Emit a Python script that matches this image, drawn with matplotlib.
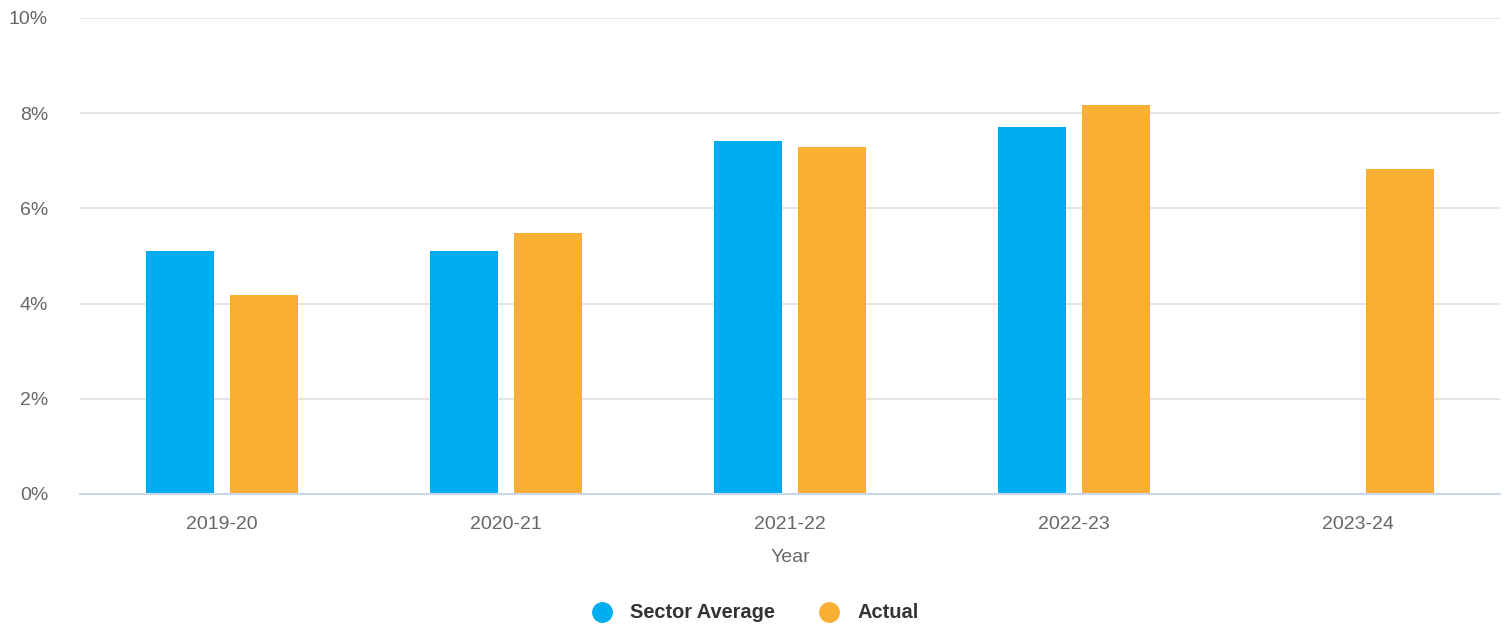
import matplotlib
matplotlib.use("Agg")
import matplotlib.pyplot as plt
import numpy as np
from matplotlib.lines import Line2D

plt.rcParams['font.family'] = ['Liberation Sans', 'DejaVu Sans']

years = ["2019-20", "2020-21", "2021-22", "2022-23", "2023-24"]
sector_avg = [5.1, 5.1, 7.42, 7.71, None]
actual = [4.18, 5.48, 7.29, 8.17, 6.83]
y_ticks = [0, 2, 4, 6, 8, 10]

c_blue = "#00aeef"
c_orange = "#f9ae34"

fig = plt.figure(figsize=(15.11, 6.27), dpi=100)
ax = fig.add_axes([80/1511, 1-494/627, 1420/1511, (494-18)/627])

x = np.arange(len(years))
w = 0.239
off = 0.148
sx = [xi for xi, v in zip(x, sector_avg) if v is not None]
sv = [v for v in sector_avg if v is not None]
ax.bar(np.array(sx) - off, sv, width=w, color=c_blue, zorder=3)
ax.bar(x + off, actual, width=w, color=c_orange, zorder=3)

ax.set_xlim(-0.5, len(years) - 0.5)
ax.set_ylim(0, 10)
ax.set_yticks(y_ticks)
ax.set_yticklabels([f"{t}%" for t in y_ticks])
ax.set_xticks(x)
ax.set_xticklabels(years)
ax.tick_params(axis='both', length=0, labelsize=14, colors="#666666")
ax.tick_params(axis='x', pad=16)
ax.tick_params(axis='y', pad=23)

ax.grid(axis='y', color="#e0e0e0", linewidth=1.2, zorder=0)
for s in ["top", "right", "left"]:
    ax.spines[s].set_visible(False)
ax.spines["bottom"].set_color("#ccd6eb")
ax.spines["bottom"].set_linewidth(1.5)
ax.spines["bottom"].set_zorder(4)

ax.set_xlabel("Year", fontsize=14, color="#666666", labelpad=11)

handles = [Line2D([0], [0], marker='o', linestyle='None', markersize=14, markerfacecolor=c_blue, markeredgecolor=c_blue),
           Line2D([0], [0], marker='o', linestyle='None', markersize=14, markerfacecolor=c_orange, markeredgecolor=c_orange)]
leg = fig.legend(handles, ["Sector Average", "Actual"], loc='center', bbox_to_anchor=(0.5, 1-613/627),
                 ncol=2, frameon=False, prop={'size': 14.4, 'weight': 'bold'}, handletextpad=0.9,
                 columnspacing=2.2, handlelength=1.0)
for t in leg.get_texts():
    t.set_color("#333333")

fig.savefig("out.png", dpi=100)
